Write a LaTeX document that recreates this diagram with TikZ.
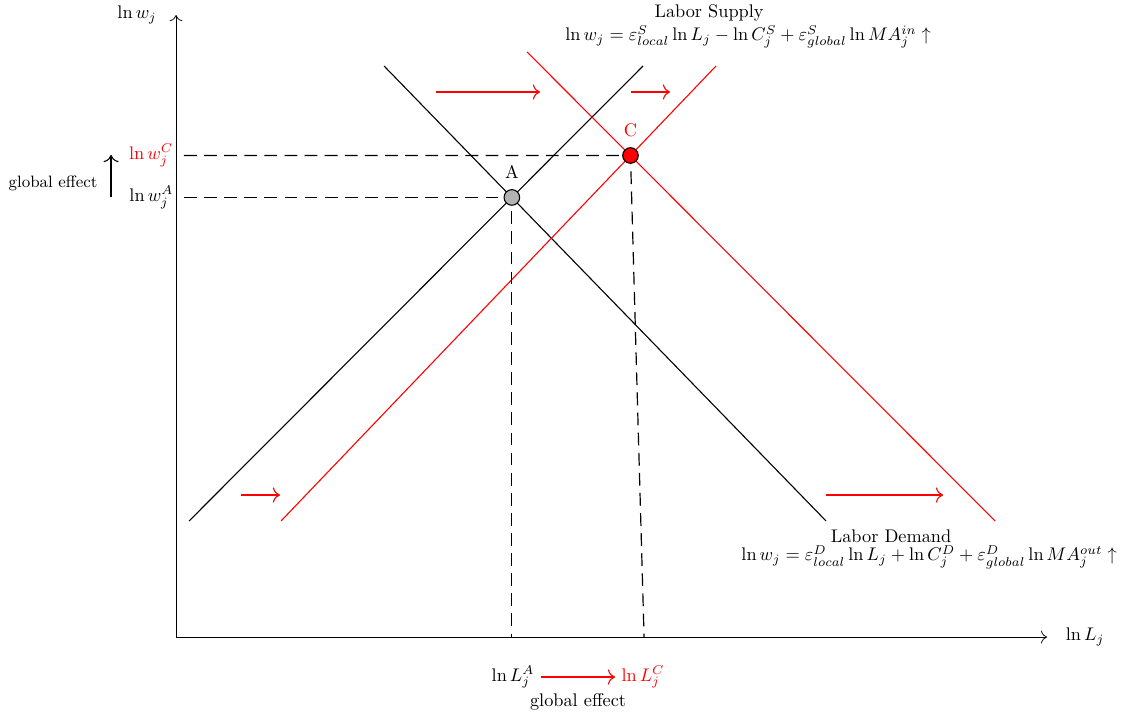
\documentclass[tikz,border=0pt]{standalone}
\usepackage{amsmath, amssymb}
\usepackage{xcolor}
\usepackage{tikz}
\usetikzlibrary{calc, arrows.meta}
\tikzset{
  curve/.style={line width=0.6pt},
  guide/.style={dash pattern=on 7pt off 4pt, line width=0.65pt},
  shiftarrow/.style={->, red, line width=0.6pt},
  eqpt/.style={circle, draw, line width=0.6pt, minimum size=0.3cm, inner sep=0pt},
}

\begin{document}
\begin{tikzpicture}[>={To[scale=1.35]}]
    \useasboundingbox (0,0) rectangle (21.71,13.75);
    % axes
    \coordinate (O) at (3.385,1.5);
    \coordinate (ytip) at (3.385,13.46);
    \coordinate (xtip) at (20.135,1.5);
    \draw[->] (O) -- (ytip);
    \draw[->] (O) -- (xtip);
    \node (wlab) at (2.635,13.46) {$\ln w_j$};
    \node (Llab) at (20.865,1.5) {$\ln L_j$};
    % supply and demand, before (black) and after (red)
    \coordinate (S0a) at (3.635,3.731);  \coordinate (S0b) at (12.365,12.481);
    \coordinate (D0a) at (7.385,12.481); \coordinate (D0b) at (15.885,3.731);
    \coordinate (S1a) at (5.404,3.731);  \coordinate (S1b) at (13.769,12.481);
    \coordinate (D1a) at (10.135,12.75); \coordinate (D1b) at (19.135,3.731);
    \draw[curve] (S0a) -- (S0b);
    \draw[curve] (D0a) -- (D0b);
    \draw[curve, red] (S1a) -- (S1b);
    \draw[curve, red] (D1a) -- (D1b);
    \coordinate (A) at (intersection of S0a--S0b and D0a--D0b);
    \coordinate (C) at (intersection of S1a--S1b and D1a--D1b);
    % curve labels
    \node (suptitle) at (13.635,13.5) {Labor Supply};
    \node (supeq) at (14.385,13.04) {$\ln w_j = \varepsilon^S_{local}\ln L_j - \ln C^S_j + \varepsilon^S_{global}\ln MA^{in}_j \uparrow$};
    \node (demtitle) at (17.135,3.442) {Labor Demand};
    \node (demeq) at (17.865,3.038) {$\ln w_j = \varepsilon^D_{local}\ln L_j + \ln C^D_j + \varepsilon^D_{global}\ln MA^{out}_j \uparrow$};
    % shifts
    \coordinate (s1) at (8.385,11.981);  \coordinate (e1) at (10.385,11.981);
    \coordinate (s2) at (12.135,11.981); \coordinate (e2) at (12.885,11.981);
    \coordinate (s3) at (4.635,4.231);   \coordinate (e3) at (5.385,4.231);
    \coordinate (s4) at (15.885,4.231);  \coordinate (e4) at (18.135,4.231);
    \foreach \i in {1,...,4} {
        \draw[shiftarrow] (s\i) -- (e\i);
    }
    % guides to the axes
    \coordinate (gx) at (3.538,0);
    \coordinate (LCfoot) at (12.385,1.5);
    \draw[guide] (A -| gx) -- (A) -- (A |- O);
    \draw[guide] (C -| gx) -- (C) -- (LCfoot);
    \node[eqpt, fill=gray!60, label={[label distance=2pt]above:A}] (Apt) at (A) {};
    \node[eqpt, fill=red, label={[label distance=2pt, red]above:C}] (Cpt) at (C) {};
    % wage labels
    \node[left, red, xshift=2pt] (wC) at (O |- C) {$\ln w_j^C$};
    \node[left, xshift=2pt] (wA) at (O |- A) {$\ln w_j^A$};
    \coordinate (gwlo) at (2.135,9.96);
    \coordinate (gwhi) at (2.135,10.77);
    \draw[->, line width=0.6pt] (gwlo) -- (gwhi);
    \node[font=\small] (gwtext) at (1.02,10.23) {global effect};
    % employment labels
    \node (LA) at (9.865,0.731) {$\ln L_j^A$};
    \node[red] (LC) at (12.365,0.731) {$\ln L_j^C$};
    \draw[shiftarrow] (LA) -- (LC);
    \node (gLtext) at (11.115,0.25) {global effect};
\end{tikzpicture}
\end{document}
